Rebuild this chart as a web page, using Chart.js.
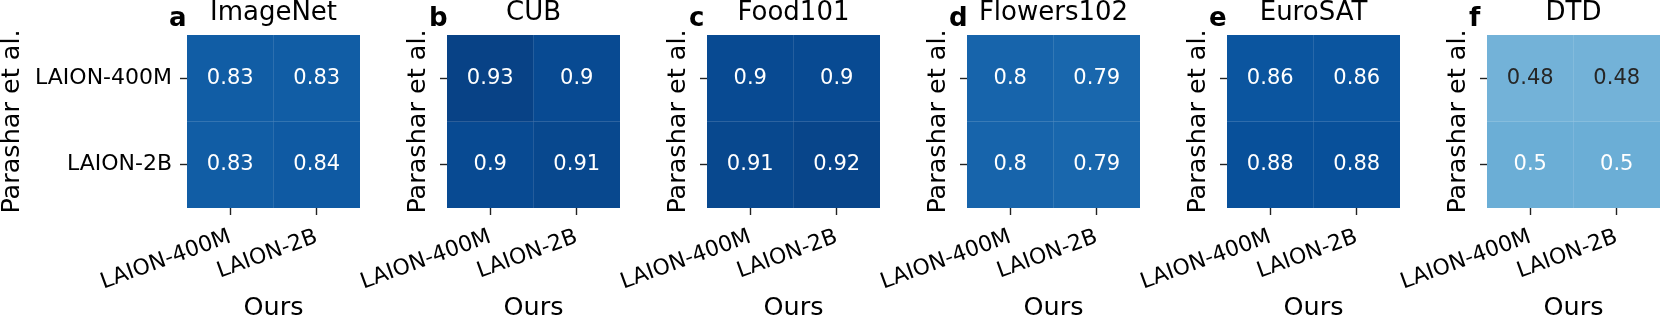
<!DOCTYPE html>
<html><head><meta charset="utf-8">
<script src="https://cdn.jsdelivr.net/npm/chart.js@4/dist/chart.umd.min.js"></script>
<style>
html,body{margin:0;padding:0;background:#fff;overflow:hidden;width:1661px;height:321px;position:relative}
.p{position:absolute;top:0;width:360px;height:321px}
canvas{display:block}
</style></head><body>
<script>
// ---- data ----
const panelLetters = ['a','b','c','d','e','f'];
const datasetNames = ['ImageNet','CUB','Food101','Flowers102','EuroSAT','DTD'];
const oursLabels = ['LAION-400M','LAION-2B'];       // columns (x axis: Ours)
const parasharLabels = ['LAION-400M','LAION-2B'];   // rows (y axis: Parashar et al.)
const xAxisTitle = 'Ours';
const yAxisTitle = 'Parashar et al.';
const imagenetValues = [[0.83, 0.83], [0.83, 0.84]];
const cubValues      = [[0.93, 0.90], [0.90, 0.91]];
const food101Values  = [[0.90, 0.90], [0.91, 0.92]];
const flowersValues  = [[0.80, 0.79], [0.80, 0.79]];
const eurosatValues  = [[0.86, 0.86], [0.88, 0.88]];
const dtdValues      = [[0.48, 0.48], [0.50, 0.50]];
const allValues = [imagenetValues, cubValues, food101Values, flowersValues, eurosatValues, dtdValues];

// ---- style / layout ----
const FONT = 'DejaVu Sans';
const PANEL_X0 = 187, PANEL_STEP = 260, CANVAS_W = 360, CANVAS_H = 321, LEFT_SPACE = 187;
Chart.defaults.font.family = FONT;

const BLUES = [[247,251,255],[222,235,247],[198,219,239],[158,202,225],[107,174,214],[66,146,198],[33,113,181],[8,81,156],[8,48,107]];
function bluesRGB(v) {
  v = Math.max(0, Math.min(1, v));
  const t = v * (BLUES.length - 1);
  const k = Math.min(BLUES.length - 2, Math.floor(t));
  const f = t - k;
  return BLUES[k].map((c, j) => c + (BLUES[k + 1][j] - c) * f);
}
function rgbStr(c) { return 'rgb(' + c.map(Math.round).join(',') + ')'; }
function relLum(c) {
  const l = c.map(x => { x /= 255; return x <= 0.03928 ? x / 12.92 : Math.pow((x + 0.055) / 1.055, 2.4); });
  return 0.2126 * l[0] + 0.7152 * l[1] + 0.0722 * l[2];
}
function fmt(v) { return String(Number(v.toPrecision(2))); }

function annotPlugin(i) {
  return {
    id: 'annot' + i,
    afterDatasetsDraw(chart) {
      const ctx = chart.ctx, xs = chart.scales.x, ys = chart.scales.y, ca = chart.chartArea;
      const vals = allValues[i];
      ctx.save();
      // faint cell seams
      ctx.strokeStyle = 'rgba(255,255,255,0.09)';
      ctx.lineWidth = 1;
      ctx.beginPath();
      for (let c = 1; c < oursLabels.length; c++) {
        const x = (xs.getPixelForValue(c - 1) + xs.getPixelForValue(c)) / 2;
        ctx.moveTo(x, ca.top); ctx.lineTo(x, ca.bottom);
      }
      for (let r = 1; r < parasharLabels.length; r++) {
        const y = ys.getPixelForValue(r);
        ctx.moveTo(ca.left, y); ctx.lineTo(ca.right, y);
      }
      ctx.stroke();
      ctx.font = '21px "' + FONT + '"';
      ctx.textAlign = 'center';
      ctx.textBaseline = 'middle';
      vals.forEach((row, r) => row.forEach((v, c) => {
        const col = bluesRGB(v);
        ctx.fillStyle = relLum(col) > 0.4 ? '#262626' : '#ffffff';
        ctx.fillText(fmt(v), xs.getPixelForValue(c), ys.getPixelForValue(r + 0.5));
      }));
      ctx.restore();
    },
    afterDraw(chart) {
      const ctx = chart.ctx;
      ctx.save();
      ctx.font = 'bold 26px "' + FONT + '"';
      ctx.textAlign = 'left';
      ctx.textBaseline = 'alphabetic';
      ctx.fillStyle = '#000';
      ctx.fillText(panelLetters[i], chart.chartArea.left - 18, 26);
      ctx.restore();
    }
  };
}

function makeChart(i) {
  const div = document.createElement('div');
  div.className = 'p';
  div.style.left = (PANEL_X0 + i * PANEL_STEP - LEFT_SPACE) + 'px';
  const cv = document.createElement('canvas');
  cv.width = CANVAS_W; cv.height = CANVAS_H;
  div.appendChild(cv);
  document.body.appendChild(div);
  const vals = allValues[i];
  const yw = i === 0 ? 187 : 41;
  const tickGrid = { display: true, drawOnChartArea: false, drawTicks: true, tickLength: 7, tickWidth: 1.4, tickColor: '#222' };
  new Chart(cv, {
    type: 'bar',
    data: {
      labels: oursLabels,
      datasets: parasharLabels.map((rl, r) => ({
        label: rl,
        data: oursLabels.map(() => 1),
        backgroundColor: vals[r].map(v => rgbStr(bluesRGB(v))),
        borderWidth: 0,
        barPercentage: 1,
        categoryPercentage: 1
      }))
    },
    options: {
      responsive: false,
      animation: false,
      events: [],
      devicePixelRatio: 1,
      layout: { padding: { left: LEFT_SPACE - yw, right: 0, top: 0, bottom: 0 } },
      plugins: {
        legend: { display: false },
        tooltip: { enabled: false },
        title: {
          display: true, text: datasetNames[i], fullSize: false, color: '#000',
          font: { family: FONT, size: 26, weight: 'normal', lineHeight: 1 },
          padding: { top: 0, bottom: 9 }
        }
      },
      scales: {
        x: {
          stacked: true,
          offset: true,
          grid: Object.assign({ offset: false }, tickGrid),
          border: { display: false },
          ticks: { autoSkip: false, minRotation: 20, maxRotation: 20, padding: 9, labelOffset: 0, color: '#000', font: { family: FONT, size: 22 } },
          title: { display: true, text: xAxisTitle, color: '#000', font: { family: FONT, size: 25.5, lineHeight: 1 }, padding: 0 },
          afterFit: s => { s.height = 113; s.paddingLeft = 0; s.paddingRight = 0; }
        },
        y: {
          stacked: true,
          reverse: true,
          min: 0,
          max: parasharLabels.length,
          afterBuildTicks: s => { s.ticks = parasharLabels.map((_, k) => ({ value: k + 0.5 })); },
          grid: tickGrid,
          border: { display: false },
          ticks: { autoSkip: false, padding: 8, color: '#000', font: { family: FONT, size: 22 },
                   callback: (v, k) => (i === 0 ? parasharLabels[k] : '') },
          title: { display: true, text: yAxisTitle, color: '#000', font: { family: FONT, size: 25.5, lineHeight: 1 }, padding: 0 },
          afterFit: s => { s.width = yw; s.paddingTop = 0; s.paddingBottom = 0; }
        }
      }
    },
    plugins: [annotPlugin(i)]
  });
}
for (let i = 0; i < datasetNames.length; i++) makeChart(i);
</script>
</body></html>
